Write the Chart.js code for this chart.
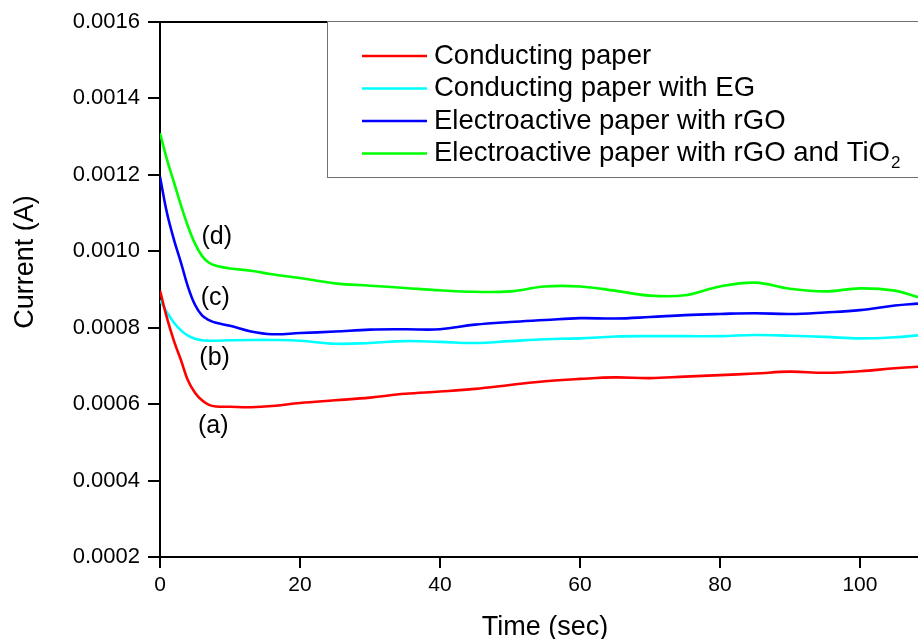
<!DOCTYPE html>
<html lang="en">
<head>
    <meta charset="UTF-8">
    <title>Current vs. Time</title>
    <style>
        body {
            margin: 0;
            background-color: #FFFFFF;
        }
        #chartBox {
            width: 918px;
            height: 639px;
        }
    </style>
    <script src="https://cdn.jsdelivr.net/npm/chart.js"></script>
</head>
<body>
    <div id="chartBox">
        <canvas id="currentChart" width="918" height="639"></canvas>
    </div>

    <script>
        // Sampling times (sec) shared by all four curves
        var timeSec = [0, 1, 2, 3, 4, 5, 6, 7, 8, 10, 13, 16, 20, 25, 30, 35, 40, 45, 50,
                       55, 60, 65, 70, 75, 80, 85, 90, 95, 100, 105, 108.3];

        // Current (A) for each paper
        var conductingPaper = [0.000897, 0.000825, 0.000765, 0.000715, 0.000662, 0.00063, 0.00061, 0.000598,
                               0.000594, 0.000593, 0.000592, 0.000595, 0.000603, 0.00061, 0.000617, 0.000627,
                               0.000633, 0.00064, 0.00065, 0.00066, 0.000666, 0.00067, 0.000668, 0.000672,
                               0.000676, 0.00068, 0.000685, 0.000682, 0.000686, 0.000694, 0.000698];
        var conductingPaperEG = [0.000872, 0.00084, 0.000813, 0.000793, 0.000779, 0.000771, 0.000767, 0.000766,
                                 0.000766, 0.000767, 0.000768, 0.000768, 0.000766, 0.000758, 0.00076, 0.000765,
                                 0.000763, 0.00076, 0.000765, 0.00077, 0.000772, 0.000777, 0.000778, 0.000778,
                                 0.000778, 0.000781, 0.000779, 0.000776, 0.000772, 0.000775, 0.00078];
        var paperRGO = [0.001195, 0.0011, 0.00103, 0.00097, 0.000907, 0.00086, 0.000832, 0.00082,
                        0.000813, 0.000805, 0.00079, 0.000783, 0.000786, 0.00079, 0.000795, 0.000796,
                        0.000796, 0.000808, 0.000815, 0.00082, 0.000825, 0.000824, 0.000828, 0.000833,
                        0.000836, 0.000838, 0.000836, 0.00084, 0.000846, 0.000858, 0.000863];
        var paperRGOTiO2 = [0.001309, 0.00124, 0.00118, 0.00112, 0.001065, 0.00102, 0.000988, 0.00097,
                            0.000962, 0.000955, 0.000949, 0.00094, 0.00093, 0.000916, 0.00091, 0.000904,
                            0.000898, 0.000894, 0.000895, 0.000908, 0.000908, 0.000897, 0.000884, 0.000885,
                            0.000908, 0.000918, 0.000902, 0.000895, 0.000903, 0.000897, 0.00088];

        var seriesNames = ['Conducting paper', 'Conducting paper with EG',
                           'Electroactive paper with rGO', 'Electroactive paper with rGO and TiO\u2082'];
        var seriesColors = ['#FF0000', '#00FFFF', '#0000FF', '#00FF00'];

        // Curve tags (a)-(d) placed in data units
        var tagText = ['(a)', '(b)', '(c)', '(d)'];
        var tagTime = [7.6, 7.8, 7.9, 8.1];
        var tagCurrent = [0.000543, 0.00072, 0.000878, 0.001036];

        var xTicks = [0, 20, 40, 60, 80, 100];
        var yTicks = [0.0002, 0.0004, 0.0006, 0.0008, 0.0010, 0.0012, 0.0014, 0.0016];

        var fontFamily = '"Liberation Sans", Arial, sans-serif';
        Chart.defaults.font.family = fontFamily;
        Chart.defaults.color = '#000000';

        function toPoints(values) {
            return timeSec.map(function(t, i) { return { x: t, y: values[i] }; });
        }

        var seriesValues = [conductingPaper, conductingPaperEG, paperRGO, paperRGOTiO2];
        var datasets = seriesValues.map(function(values, i) {
            return {
                label: seriesNames[i],
                data: toPoints(values),
                borderColor: seriesColors[i],
                backgroundColor: seriesColors[i],
                borderWidth: 2.6,
                pointRadius: 0,
                fill: false,
                tension: 0.4
            };
        });

        // Draws frame top, axis titles, legend box and curve tags
        var decorPlugin = {
            id: 'decor',
            afterDraw: function(chart) {
                var ctx = chart.ctx;
                var area = chart.chartArea;
                var xs = chart.scales.x;
                var ys = chart.scales.y;
                ctx.save();

                // top frame line
                ctx.strokeStyle = '#000000';
                ctx.lineWidth = 2;
                ctx.beginPath();
                ctx.moveTo(area.left, area.top);
                ctx.lineTo(area.right, area.top);
                ctx.stroke();

                // curve tags
                ctx.fillStyle = '#000000';
                ctx.font = '25px ' + fontFamily;
                ctx.textAlign = 'center';
                ctx.textBaseline = 'middle';
                for (var k = 0; k < tagText.length; k++) {
                    ctx.fillText(tagText[k], xs.getPixelForValue(tagTime[k]), ys.getPixelForValue(tagCurrent[k]));
                }

                // axis titles
                ctx.font = '27px ' + fontFamily;
                ctx.textBaseline = 'alphabetic';
                ctx.fillText('Time (sec)', 545, 635);
                ctx.save();
                ctx.translate(33, 262);
                ctx.rotate(-Math.PI / 2);
                ctx.fillText('Current (A)', 0, 0);
                ctx.restore();

                // legend box
                var boxLeft = 327.5, boxTop = 21.5, boxBottom = 177.5;
                ctx.fillStyle = '#FFFFFF';
                ctx.fillRect(boxLeft, boxTop - 1, chart.width - boxLeft + 5, boxBottom - boxTop + 1);
                ctx.strokeStyle = '#707070';
                ctx.lineWidth = 1;
                ctx.strokeRect(boxLeft, boxTop, chart.width - boxLeft + 5, boxBottom - boxTop);

                var rowY = [56, 88.5, 121, 153.5];
                ctx.font = '27.5px ' + fontFamily;
                ctx.textAlign = 'left';
                ctx.textBaseline = 'middle';
                chart.data.datasets.forEach(function(ds, i) {
                    ctx.strokeStyle = ds.borderColor;
                    ctx.lineWidth = 2.6;
                    ctx.beginPath();
                    ctx.moveTo(362, rowY[i]);
                    ctx.lineTo(427, rowY[i]);
                    ctx.stroke();

                    ctx.fillStyle = '#000000';
                    var label = ds.label;
                    var sub = label.indexOf('\u2082');
                    if (sub >= 0) {
                        var main = label.slice(0, sub);
                        ctx.fillText(main, 434, rowY[i]);
                        var w = ctx.measureText(main).width;
                        ctx.font = '17px ' + fontFamily;
                        ctx.fillText('2', 434 + w + 1, rowY[i] + 10);
                        ctx.font = '27.5px ' + fontFamily;
                    } else {
                        ctx.fillText(label, 434, rowY[i]);
                    }
                });

                ctx.restore();
            }
        };

        var ctx = document.getElementById('currentChart').getContext('2d');
        var currentChart = new Chart(ctx, {
            type: 'line',
            data: { datasets: datasets },
            options: {
                responsive: false,
                animation: false,
                layout: {
                    padding: { top: 22, right: 0, left: 0, bottom: 0 }
                },
                plugins: {
                    legend: { display: false },
                    tooltip: { enabled: false }
                },
                scales: {
                    x: {
                        type: 'linear',
                        min: 0,
                        max: 108.3,
                        afterBuildTicks: function(axis) {
                            axis.ticks = xTicks.map(function(v) { return { value: v }; });
                        },
                        afterFit: function(axis) { axis.height = 82; },
                        border: { color: '#000000', width: 2 },
                        grid: {
                            drawOnChartArea: false,
                            drawTicks: true,
                            tickLength: 11,
                            color: '#000000',
                            lineWidth: 2
                        },
                        ticks: {
                            font: { size: 21 },
                            color: '#000000',
                            padding: 5,
                            maxRotation: 0
                        }
                    },
                    y: {
                        type: 'linear',
                        min: 0.0002,
                        max: 0.0016,
                        afterBuildTicks: function(axis) {
                            axis.ticks = yTicks.map(function(v) { return { value: v }; });
                        },
                        afterFit: function(axis) { axis.width = 160; },
                        border: { color: '#000000', width: 2 },
                        grid: {
                            drawOnChartArea: false,
                            drawTicks: true,
                            tickLength: 12,
                            color: '#000000',
                            lineWidth: 2
                        },
                        ticks: {
                            font: { size: 22 },
                            color: '#000000',
                            padding: 8,
                            callback: function(v) { return Number(v).toFixed(4); }
                        }
                    }
                }
            },
            plugins: [decorPlugin]
        });
    </script>
</body>
</html>
